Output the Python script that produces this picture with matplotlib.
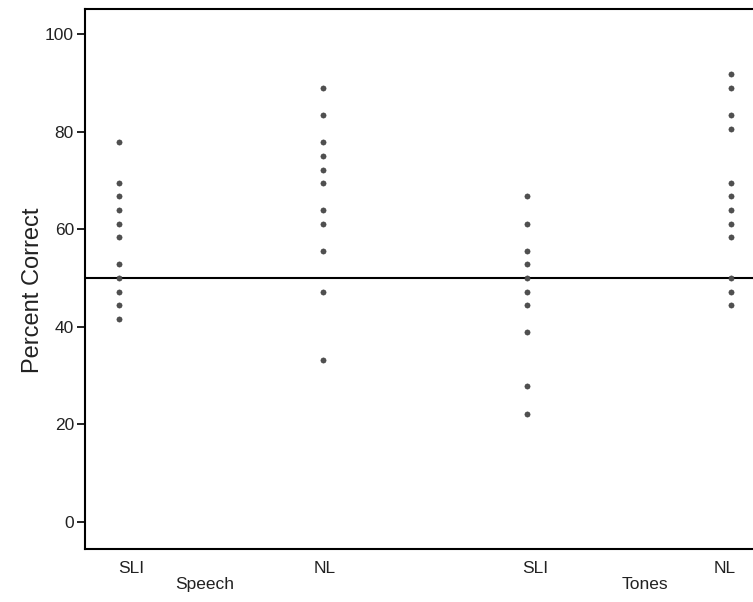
import numpy as np
import matplotlib.pyplot as plt

plt.rcParams['font.family'] = ['Liberation Sans', 'DejaVu Sans']

# percent correct per child, one column per group
speech_sli = [77.8, 69.4, 66.7, 63.9, 61.1, 58.3, 52.8, 50.0, 47.2, 44.4, 41.7]
speech_nl = [88.9, 83.3, 77.8, 75.0, 72.2, 69.4, 63.9, 61.1, 55.6, 47.2, 33.3]
tones_sli = [66.7, 61.1, 55.6, 52.8, 50.0, 47.2, 44.4, 38.9, 27.8, 22.2]
tones_nl = [91.7, 88.9, 83.3, 80.6, 69.4, 66.7, 63.9, 61.1, 58.3, 50.0, 47.2, 44.4]

groups = [speech_sli, speech_nl, tones_sli, tones_nl]
group_labels = ['SLI', 'NL', 'SLI', 'NL']
label_pos = [1.06, 2.01, 3.04, 3.97]
conditions = ['Speech', 'Tones']
cond_pos = [1.42, 3.58]
chance = 50
yticks = [0, 20, 40, 60, 80, 100]

fig = plt.figure(figsize=(7.53, 6.02), dpi=100)
ax = fig.add_axes([85/753, 53/602, 675/753, 540/602])

for i, vals in enumerate(groups):
    ax.scatter(np.full(len(vals), i + 1), vals, s=14, color='#505050',
               edgecolors='#3a3a3a', linewidths=0.4, zorder=3)

ax.axhline(chance, color='black', lw=1.5, zorder=2)

ax.set_xlim(0.833, 4.142)
ax.set_ylim(-5.5, 105.1)
ax.set_yticks(yticks)
ax.set_xticks([])
ax.tick_params(axis='y', direction='out', length=6, width=1.4, labelsize=12.5,
               pad=2, colors='#222222')
for s in ax.spines.values():
    s.set_linewidth(1.5)
ax.spines['right'].set_visible(False)

for x, lab in zip(label_pos, group_labels):
    ax.text(x, -9.4, lab, ha='center', va='center', fontsize=12.5,
            color='#222222', clip_on=False)
for x, lab in zip(cond_pos, conditions):
    ax.text(x, -12.8, lab, ha='center', va='center', fontsize=12.5,
            color='#222222', clip_on=False)

fig.text(33/753, 1 - 290/602, 'Percent Correct', rotation=90, ha='center',
         va='center', fontsize=17, color='#222222')

fig.savefig('out.png', dpi=100)
